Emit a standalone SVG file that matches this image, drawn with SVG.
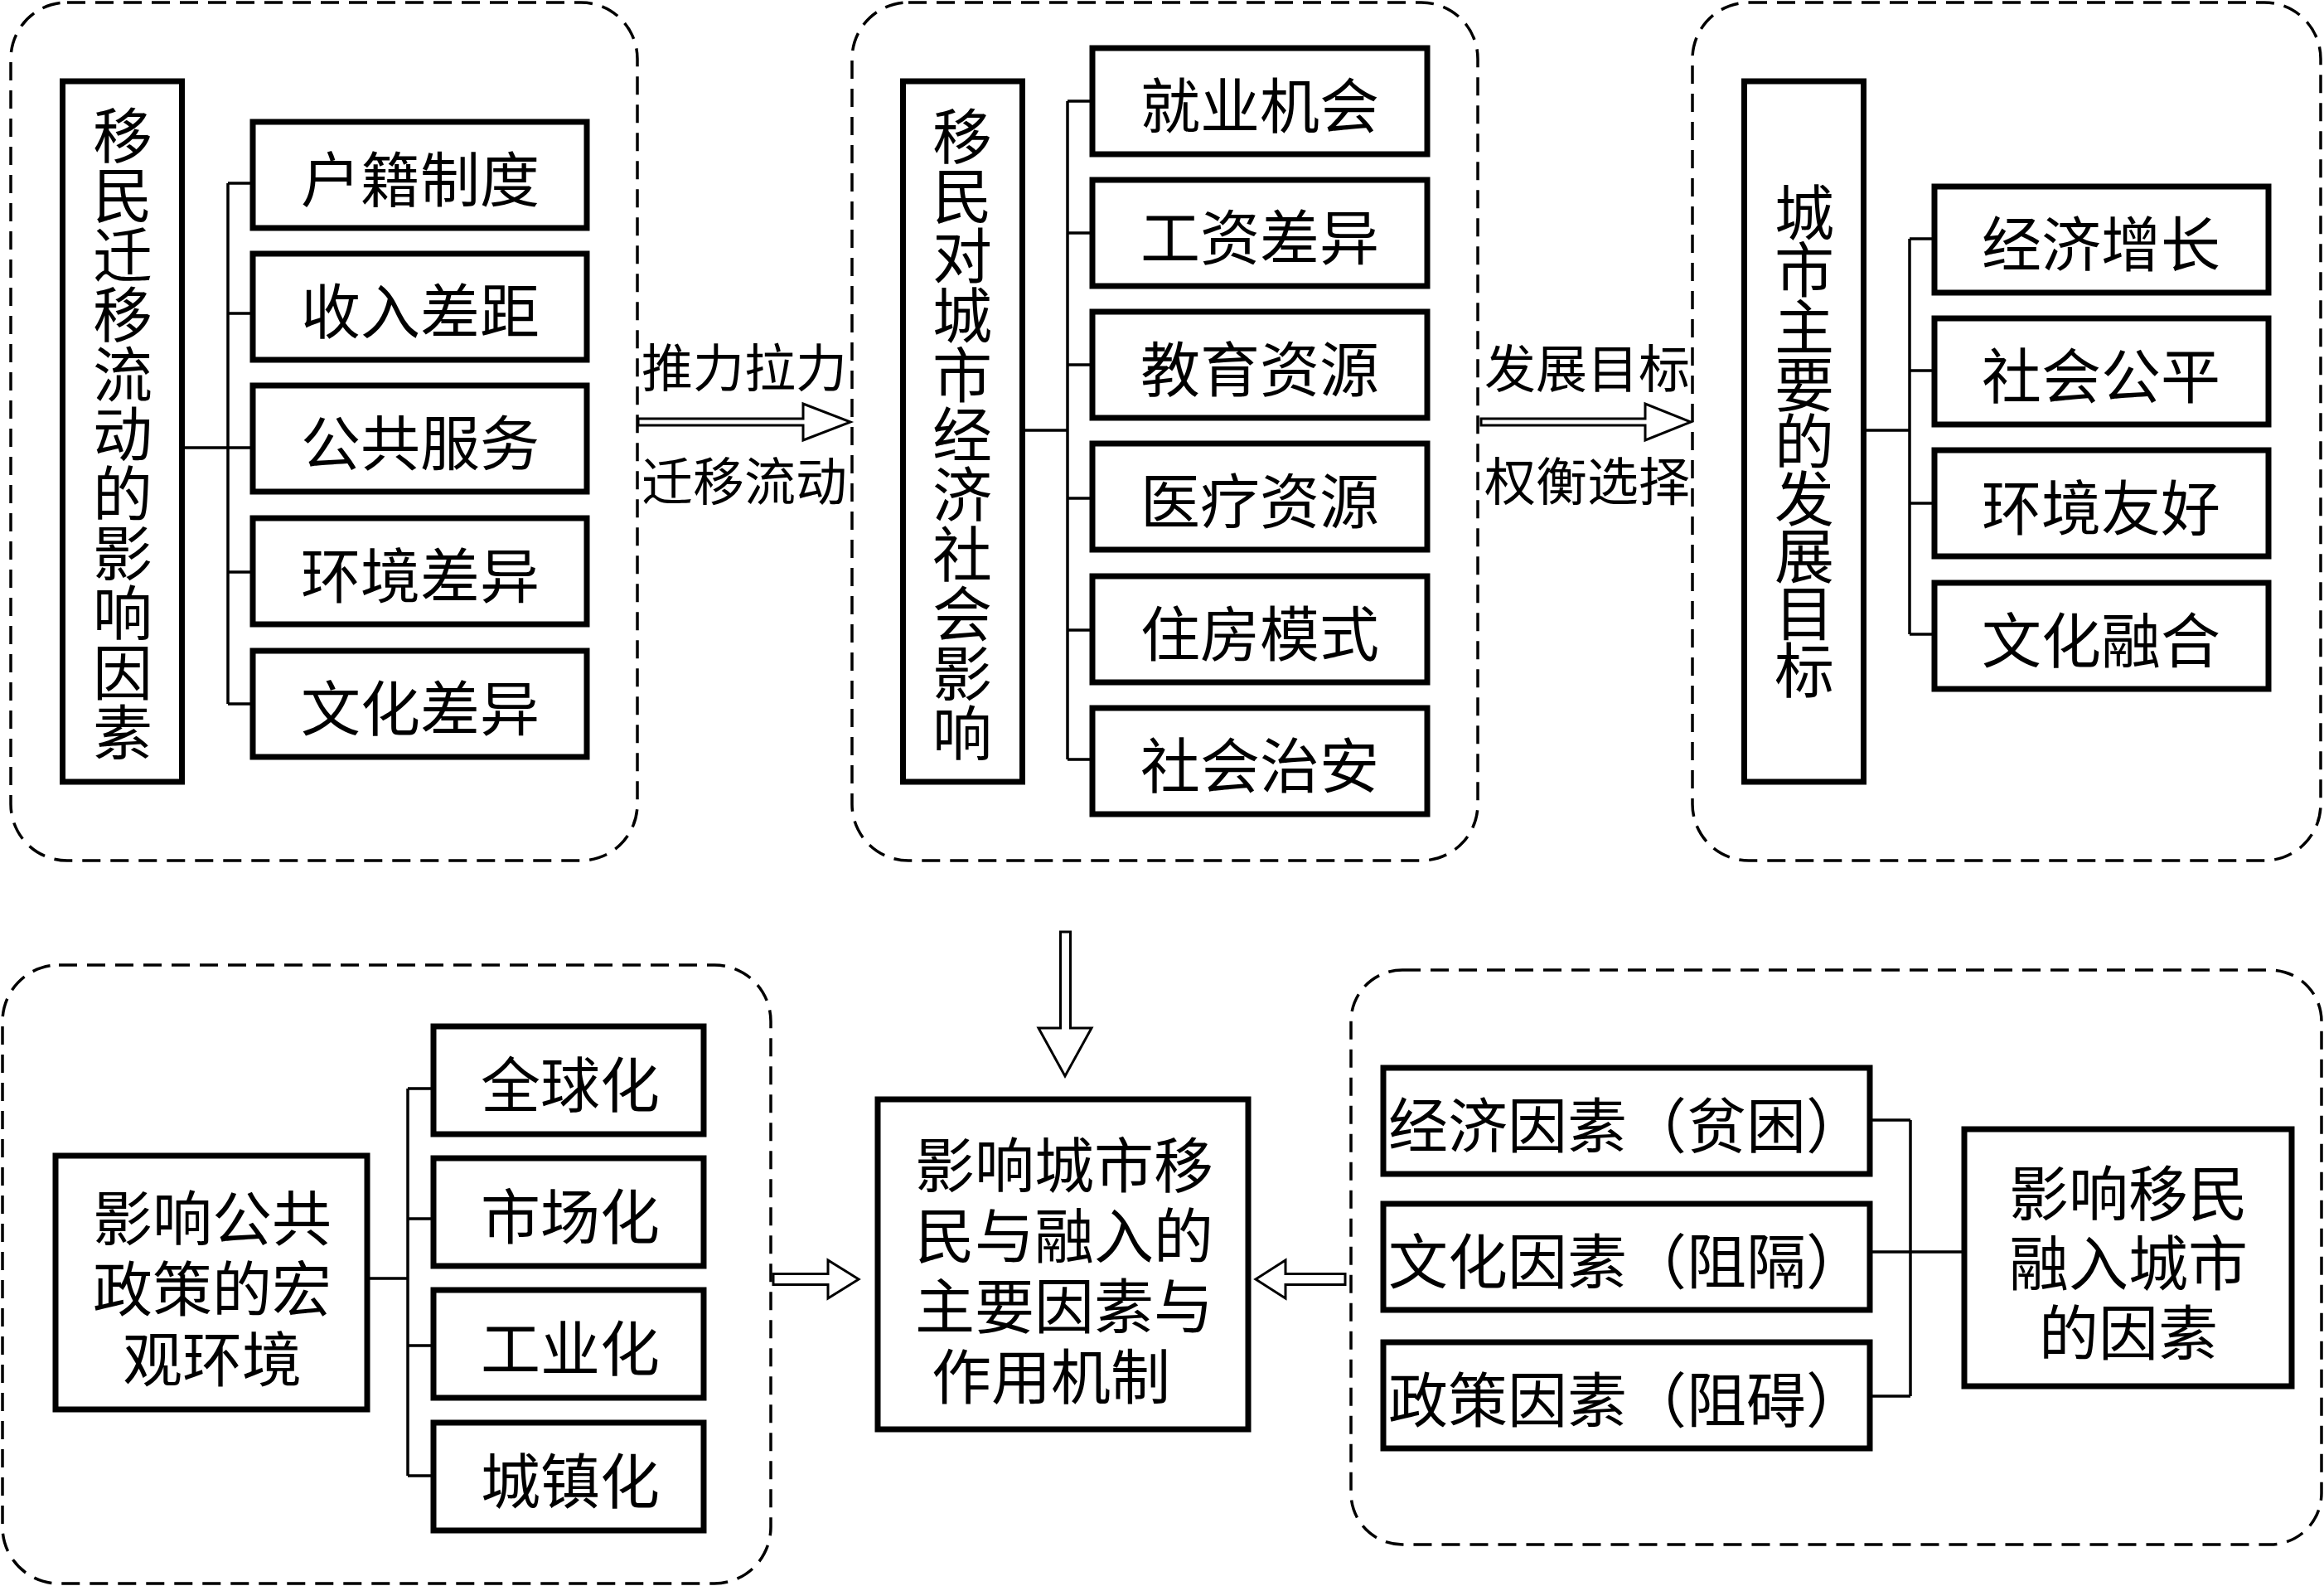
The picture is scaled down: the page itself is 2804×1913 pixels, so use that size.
<svg xmlns="http://www.w3.org/2000/svg" width="2804" height="1913" viewBox="0 0 2804 1913">
<style>
.bg{fill:#fff}
.grp{fill:none;stroke:#000;stroke-width:3.5;stroke-dasharray:22 12}
.box{fill:#fff;stroke:#000;stroke-width:7}
.ln{fill:none;stroke:#000;stroke-width:3.5}
.arr{fill:#fff;stroke:#000;stroke-width:3;stroke-linejoin:miter}
text{font-family:"Noto Sans CJK SC","Noto Sans CJK TC",sans-serif;font-size:72px;fill:#000;text-anchor:middle;dominant-baseline:central}
.lbl{font-size:62px}
.vt{writing-mode:vertical-rl;text-orientation:upright}
</style>
<rect class="bg" x="0" y="0" width="2804" height="1913"/>

<!-- group frames -->
<g id="frames">
<rect class="grp" x="13" y="3" width="756" height="1035" rx="68" ry="68"/>
<rect class="grp" x="1028" y="3" width="755" height="1035" rx="68" ry="68"/>
<rect class="grp" x="2042" y="3" width="758" height="1035" rx="68" ry="68"/>
<rect class="grp" x="3" y="1164" width="927" height="746" rx="68" ry="68"/>
<rect class="grp" x="1630" y="1170" width="1171" height="693" rx="62" ry="62"/>
</g>

<!-- connectors -->
<g id="connectors">
<path class="ln" d="M219.5 540H275M275 221V849M275 221H305M275 378H305M275 540H305M275 690H305M275 849H305"/>
<path class="ln" d="M1233.5 519H1288M1288 122V916M1288 122H1318M1288 281H1318M1288 440H1318M1288 601H1318M1288 760H1318M1288 916H1318"/>
<path class="ln" d="M2248.5 519H2304M2304 288V765M2304 288H2334M2304 447H2334M2304 607H2334M2304 765H2334"/>
<path class="ln" d="M443 1542H492M492 1313V1780M492 1313H523M492 1470H523M492 1623H523M492 1780H523"/>
<path class="ln" d="M2256 1351H2305M2256 1510H2370M2256 1684H2305M2305 1351V1684"/>
<polygon class="arr" points="770,505 969,505 969,487 1026,509 969,531 969,513 770,513"/>
<polygon class="arr" points="1787,505 1985,505 1985,487 2040,509 1985,531 1985,513 1787,513"/>
<polygon class="arr" points="1279.5,1124 1291.5,1124 1291.5,1240 1317,1240 1285,1298 1253,1240 1279.5,1240"/>
<polygon class="arr" points="933,1536.5 999,1536.5 999,1520 1036,1543 999,1566 999,1549.5 933,1549.5"/>
<polygon class="arr" points="1623,1536.5 1551,1536.5 1551,1520 1515,1543 1551,1566 1551,1549.5 1623,1549.5"/>
<text class="lbl" x="898" y="440">推力拉力</text>
<text class="lbl" x="898" y="577">迁移流动</text>
<text class="lbl" x="1915" y="441">发展目标</text>
<text class="lbl" x="1915" y="577">权衡选择</text>
</g>

<!-- top-left group -->
<g id="n-migration-factors">
<rect class="box" x="75.5" y="98" width="144" height="845"/>
<text class="vt" x="148" y="523">移民迁移流动的影响因素</text>
</g>
<g id="n-hukou"><rect class="box" x="305" y="147" width="403" height="128"/><text x="507" y="211">户籍制度</text></g>
<g id="n-income"><rect class="box" x="305" y="306" width="403" height="128"/><text x="507" y="370">收入差距</text></g>
<g id="n-public"><rect class="box" x="305" y="465" width="403" height="128"/><text x="507" y="529">公共服务</text></g>
<g id="n-env"><rect class="box" x="305" y="625" width="403" height="128"/><text x="507" y="689">环境差异</text></g>
<g id="n-culture"><rect class="box" x="305" y="785" width="403" height="128"/><text x="507" y="849">文化差异</text></g>

<!-- top-middle group -->
<g id="n-impact">
<rect class="box" x="1089.5" y="98" width="144" height="845"/>
<text class="vt" x="1161" y="524">移民对城市经济社会影响</text>
</g>
<g id="n-jobs"><rect class="box" x="1318" y="58" width="404" height="128"/><text x="1520" y="122">就业机会</text></g>
<g id="n-wage"><rect class="box" x="1318" y="217" width="404" height="128"/><text x="1520" y="281">工资差异</text></g>
<g id="n-edu"><rect class="box" x="1318" y="376" width="404" height="128"/><text x="1520" y="440">教育资源</text></g>
<g id="n-med"><rect class="box" x="1318" y="535" width="404" height="128"/><text x="1520" y="599">医疗资源</text></g>
<g id="n-housing"><rect class="box" x="1318" y="695" width="404" height="128"/><text x="1520" y="759">住房模式</text></g>
<g id="n-security"><rect class="box" x="1318" y="854" width="404" height="128"/><text x="1520" y="918">社会治安</text></g>

<!-- top-right group -->
<g id="n-goals">
<rect class="box" x="2104.5" y="98" width="144" height="845"/>
<text class="vt" x="2177" y="530" letter-spacing="-3">城市主要的发展目标</text>
</g>
<g id="n-growth"><rect class="box" x="2334" y="225" width="403" height="128"/><text x="2535" y="289">经济增长</text></g>
<g id="n-equity"><rect class="box" x="2334" y="384" width="403" height="128"/><text x="2535" y="448">社会公平</text></g>
<g id="n-green"><rect class="box" x="2334" y="543" width="403" height="128"/><text x="2535" y="607">环境友好</text></g>
<g id="n-fusion"><rect class="box" x="2334" y="703" width="403" height="128"/><text x="2535" y="767">文化融合</text></g>

<!-- bottom-left group -->
<g id="n-macro">
<rect class="box" x="67" y="1394" width="376" height="306"/>
<text><tspan x="256" y="1464">影响公共</tspan><tspan x="256" y="1549">政策的宏</tspan><tspan x="256" y="1634">观环境</tspan></text>
</g>
<g id="n-global"><rect class="box" x="523" y="1238" width="326" height="130"/><text x="688" y="1303">全球化</text></g>
<g id="n-market"><rect class="box" x="523" y="1397" width="326" height="130"/><text x="688" y="1462">市场化</text></g>
<g id="n-industry"><rect class="box" x="523" y="1556" width="326" height="130"/><text x="688" y="1621">工业化</text></g>
<g id="n-urban"><rect class="box" x="523" y="1716" width="326" height="130"/><text x="688" y="1781">城镇化</text></g>

<!-- center -->
<g id="n-center">
<rect class="box" x="1059" y="1326" width="447" height="398"/>
<text><tspan x="1284" y="1400">影响城市移</tspan><tspan x="1284" y="1485">民与融入的</tspan><tspan x="1284" y="1570">主要因素与</tspan><tspan x="1268" y="1655">作用机制</tspan></text>
</g>

<!-- bottom-right group -->
<g id="n-econ"><rect class="box" x="1669" y="1288" width="587" height="128"/><text x="1963" y="1352">经济因素（贫困）</text></g>
<g id="n-cult"><rect class="box" x="1669" y="1452" width="587" height="128"/><text x="1963" y="1516">文化因素（阻隔）</text></g>
<g id="n-policy"><rect class="box" x="1669" y="1619" width="587" height="128"/><text x="1963" y="1683">政策因素（阻碍）</text></g>
<g id="n-integration">
<rect class="box" x="2370" y="1362" width="395" height="310"/>
<text><tspan x="2568" y="1434">影响移民</tspan><tspan x="2568" y="1518">融入城市</tspan><tspan x="2568" y="1602">的因素</tspan></text>
</g>
</svg>
